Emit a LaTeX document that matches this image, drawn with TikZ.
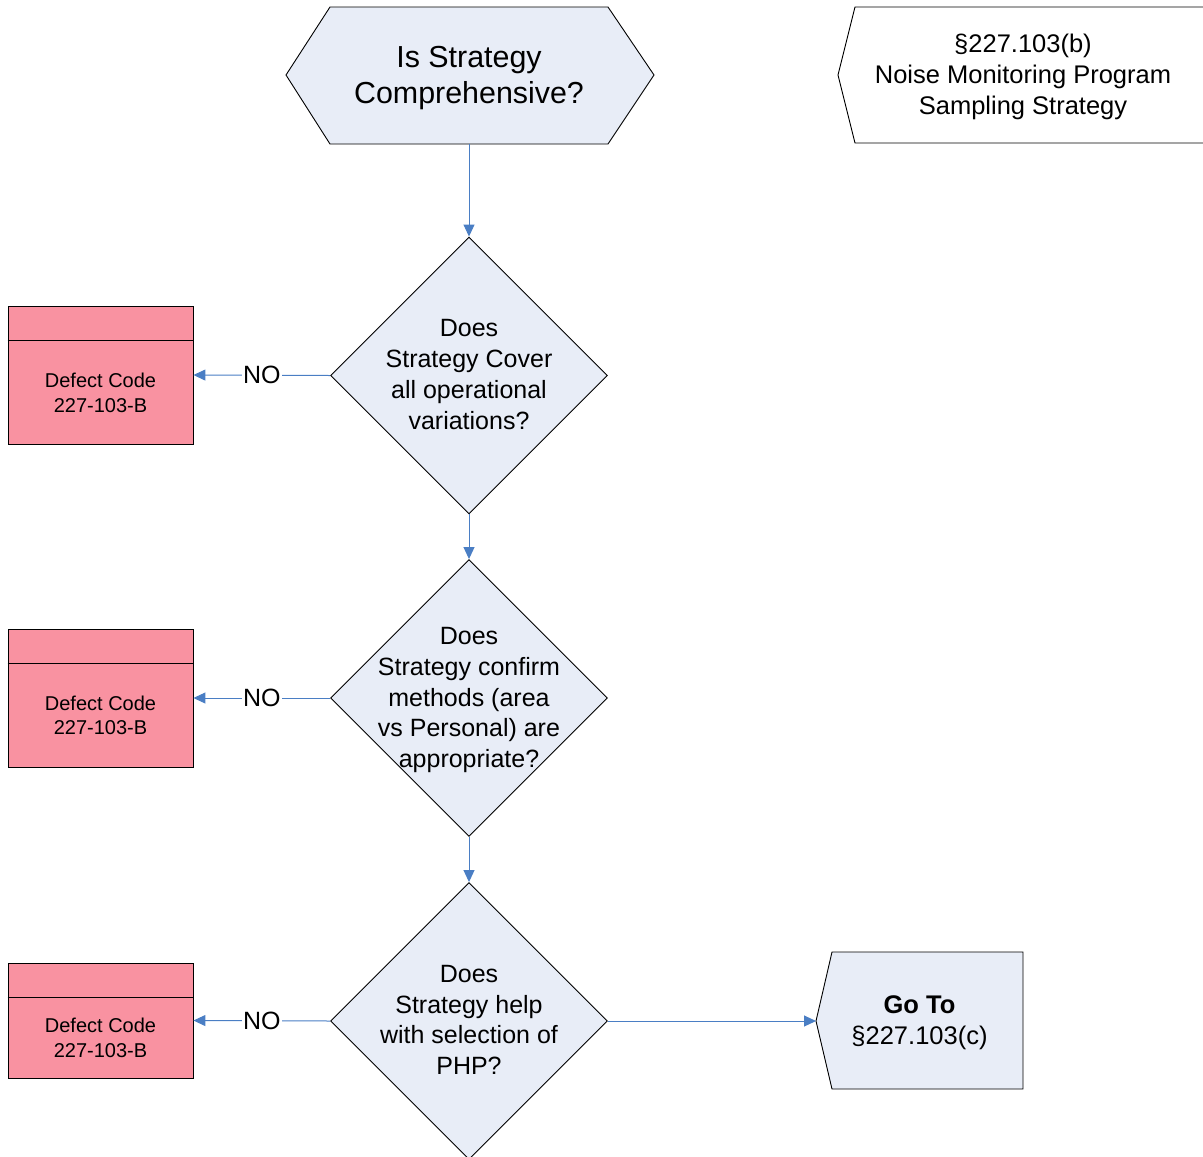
\documentclass[tikz,border=0pt]{standalone}
\usepackage{fontspec}
\setmainfont{Liberation Sans}
\usetikzlibrary{arrows.meta,shapes.geometric}
\definecolor{shapefill}{RGB}{232,237,247}
\definecolor{pinkfill}{RGB}{249,146,161}
\definecolor{connblue}{RGB}{74,126,196}
\tikzset{
  dia/.style={diamond, draw=black, line width=0.9pt, fill=shapefill, minimum width=277pt, minimum height=277pt, inner sep=0pt, aspect=1},
  dtext/.style={align=center, font=\fontsize{25}{30.7}\selectfont, inner sep=0pt},
  defbox/.style={draw=black, line width=0.9pt, fill=pinkfill, minimum width=185pt, inner sep=0pt},
  deftext/.style={align=center, font=\fontsize{20}{24.5}\selectfont, inner sep=0pt},
  conn/.style={draw=connblue, line width=1pt, -{Triangle[length=12pt,width=11pt]}},
  nolabel/.style={fill=white, inner sep=1pt, font=\fontsize{25}{30}\selectfont},
  outline/.style={draw=black, line width=0.9pt}
}
\begin{document}
\begin{tikzpicture}[x=1pt,y=-1pt]
\useasboundingbox (0,0) rectangle (1203,1157);
% hexagon
\draw[outline, fill=shapefill] (286,75) -- (330,7) -- (608,7) -- (654,75) -- (608,144) -- (330,144) -- cycle;
\node[align=center, font=\fontsize{30.4}{36}\selectfont, inner sep=0pt] (hex) at (469,78) {Is Strategy\\Comprehensive?};
\coordinate (hexb) at (469,144);
% off-page reference top right
\fill[white] (1203,7) -- (855,7) -- (838,75) -- (855,143) -- (1203,143) -- cycle;
\draw[outline] (1203,7) -- (855,7) -- (838,75) -- (855,143) -- (1203,143);
\node[align=center, font=\fontsize{25.5}{31}\selectfont, inner sep=0pt] (ref) at (1023,77) {§227.103(b)\\Noise Monitoring Program\\Sampling Strategy};
% diamonds
\node[dia] (d1) at (469,375.5) {};
\node[dtext] (t1) at ([yshift=1pt]d1.center) {Does\\Strategy Cover\\all operational\\variations?};
\node[dia] (d2) at (469,698) {};
\node[dtext] (t2) at ([yshift=-2pt]d2.center) {Does\\Strategy confirm\\methods (area\\vs Personal) are\\appropriate?};
\node[dia] (d3) at (469,1021) {};
\node[dtext] (t3) at ([yshift=1pt]d3.center) {Does\\Strategy help\\with selection of\\PHP?};
% defect boxes
\node[defbox, minimum height=138pt] (b1) at (100.5,375) {};
\draw[black, line width=0.9pt] ([yshift=-35pt]b1.north west) -- ([yshift=-35pt]b1.north east);
\node[deftext] (bt1) at (100.5,393) {Defect Code\\227-103-B};
\node[defbox, minimum height=138pt] (b2) at (100.5,698) {};
\draw[black, line width=0.9pt] ([yshift=-35pt]b2.north west) -- ([yshift=-35pt]b2.north east);
\node[deftext] (bt2) at (100.5,715.5) {Defect Code\\227-103-B};
\node[defbox, minimum height=115pt] (b3) at (100.5,1020.5) {};
\draw[black, line width=0.9pt] ([yshift=-35pt]b3.north west) -- ([yshift=-35pt]b3.north east);
\node[deftext] (bt3) at (100.5,1038) {Defect Code\\227-103-B};
% go to
\draw[outline, fill=shapefill] (816,1021) -- (832,952) -- (1023,952) -- (1023,1089) -- (832,1089) -- cycle;
\node[align=center, font=\fontsize{25.5}{31}\selectfont, inner sep=0pt] (goto) at (919.5,1023) {\textbf{Go To}\\§227.103(c)};
\coordinate (gotoL) at (816,1021);
% connectors
\draw[conn] (hexb) -- (d1.north);
\draw[conn] (d1.south) -- (d2.north);
\draw[conn] (d2.south) -- (d3.north);
\draw[conn] (d1.west) -- node[nolabel] (no1) {NO} (b1.east);
\draw[conn] (d2.west) -- node[nolabel] (no2) {NO} (b2.east);
\draw[conn] (d3.west) -- node[nolabel] (no3) {NO} (b3.east);
\draw[conn] (d3.east) -- (gotoL);
\end{tikzpicture}
\end{document}
